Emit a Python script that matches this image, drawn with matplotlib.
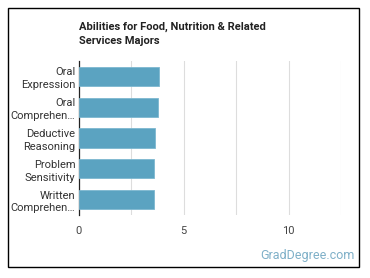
import matplotlib
matplotlib.use("Agg")
import matplotlib.pyplot as plt
from matplotlib.patches import Rectangle

plt.rcParams["font.family"] = ["Roboto", "DejaVu Sans"]

labels = ["Oral\nExpression", "Oral\nComprehen\u2026", "Deductive\nReasoning",
          "Problem\nSensitivity", "Written\nComprehen\u2026"]
values = [3.84, 3.79, 3.63, 3.59, 3.59]
xticks = [0, 5, 10]
title = "Abilities for Food, Nutrition & Related\nServices Majors"

W, H = 370, 278
fig = plt.figure(figsize=(W / 100, H / 100), dpi=100)
fig.patches.append(Rectangle((8 / W, 11 / H), 351 / W, 259 / H, transform=fig.transFigure,
                             fill=False, edgecolor="black", linewidth=1.0))

ax = fig.add_axes([79 / W, 1 - 215 / H, 262 / W, 154 / H])
y = list(range(len(labels)))
ax.barh(y, values, height=0.62, color="#5ba3c1", edgecolor="#7db8d0", linewidth=0.6, zorder=3)
ax.set_ylim(len(labels) - 0.5, -0.5)
ax.set_xlim(0, 12.5)
ax.set_yticks(y)
ax.set_yticklabels(labels, fontsize=8, color="#333333", linespacing=1.35)
ax.set_xticks(xticks)
ax.set_xticklabels([str(t) for t in xticks], fontsize=8, color="#444444")
ax.set_xticks([2.5, 7.5, 12.5], minor=True)
ax.grid(axis="x", which="both", color="#dddddd", linewidth=0.8, zorder=0)
for s in ["top", "right", "bottom"]:
    ax.spines[s].set_visible(False)
ax.spines["left"].set_color("#222222")
ax.spines["left"].set_linewidth(0.9)
ax.tick_params(axis="y", which="both", length=0, pad=2.5)
ax.tick_params(axis="x", which="both", length=0, pad=8)

fig.text(79 / W, 1 - 22 / H, title, fontsize=8, fontweight="bold", color="#222222",
         va="top", ha="left", linespacing=1.5)
fig.text(355 / W, 1 - 256 / H, "GradDegree.com", fontsize=9, color="#7fb0c8",
         ha="right", va="center")

fig.savefig("out.png", dpi=100)
